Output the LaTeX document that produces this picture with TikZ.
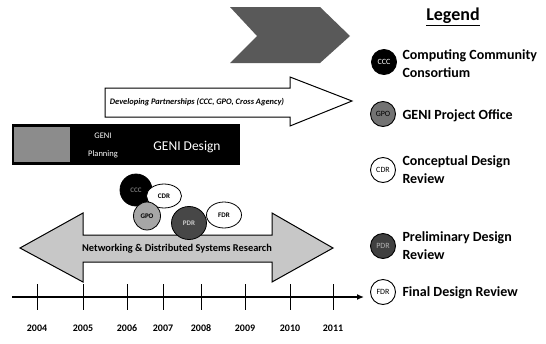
\documentclass[tikz,border=0pt]{standalone}
\usepackage{fontspec}
\setmainfont{Carlito}
\usetikzlibrary{arrows.meta,shapes.geometric}

\begin{document}
\begin{tikzpicture}[x=1pt,y=-1pt,
	bubble/.style={ellipse,draw,line width=0.8pt,inner sep=0pt,font=\bfseries\fontsize{7}{7}\selectfont},
	key/.style={circle,draw,line width=0.9pt,minimum size=25pt,inner sep=0pt,font=\fontsize{8}{8}\selectfont},
	keytext/.style={anchor=west,align=left,font=\bfseries\fontsize{14}{18}\selectfont},
	year/.style={font=\bfseries\fontsize{10}{10}\selectfont}]
	\useasboundingbox (0,0) rectangle (546,343);
	\fill[black!65] (230,7) -- (320,7) -- (350,36) -- (320,63) -- (230,63) -- (257,36) -- cycle;
	\draw[line width=1pt,fill=white] (105,88) -- (290,88) -- (290,77) -- (352,101) -- (290,126) -- (290,117) -- (105,117) -- cycle;
	\node[font=\bfseries\itshape\fontsize{8.4}{9}\selectfont] (partners) at (197,102) {Developing Partnerships (CCC, GPO, Cross Agency)};
	\fill (12,124) rectangle (240,165);
	\fill[black!45] (14,127) rectangle (70,162);
	\node[white,align=center,font=\fontsize{8.5}{18}\selectfont] (planning) at (103,145) {GENI\\Planning};
	\node[white,font=\fontsize{13.5}{14}\selectfont] (design) at (187,147) {GENI Design};
	\draw[line width=1pt,fill=black!22] (20,248) -- (83,213) -- (83,235) -- (272,235) -- (272,213) -- (333,248) -- (272,282) -- (272,262) -- (83,262) -- (83,282) -- cycle;
	\node[font=\bfseries\fontsize{10.4}{11}\selectfont] (research) at (177,249) {Networking \& Distributed Systems Research};
	\node[bubble,fill=black,text=black!55,minimum width=32pt,minimum height=32pt] (ccc) at (136,190) {CCC};
	\node[bubble,fill=white,minimum width=35pt,minimum height=24pt] (cdr) at (164,196) {CDR};
	\node[bubble,fill=black!35,minimum width=27pt,minimum height=28pt] (gpo) at (147,216) {GPO};
	\node[bubble,fill=black!72,text=black!20,minimum width=35pt,minimum height=33pt] (pdr) at (189,223) {PDR};
	\node[bubble,fill=white,minimum width=35pt,minimum height=26pt] (fdr) at (224,215) {FDR};
	\coordinate (tstart) at (12,297);
	\coordinate (tend) at (364,297);
	\draw[line width=1.3pt,-{Latex[length=7pt,width=6pt]}] (tstart) -- (tend);
	\foreach \x/\yr in {37/2004,83/2005,127/2006,163/2007,201/2008,245/2009,290/2010,333/2011}{
		\draw[line width=1pt] (\x,284) -- (\x,310);
		\node[year] (y\yr) at (\x,328) {\yr};
	}
	\node[font=\bfseries\fontsize{18}{18}\selectfont] (legend) at (453,17) {\underline{Legend}};
	\node[key,fill=black,text=white] (keyccc) at (384,62) {CCC};
	\node[keytext] (txtccc) at (399,64) {Computing Community\\Consortium};
	\node[key,fill=black!55] (keygpo) at (383,114) {GPO};
	\node[keytext] (txtgpo) at (399,116) {GENI Project Office};
	\node[key,fill=white] (keycdr) at (383,170) {CDR};
	\node[keytext] (txtcdr) at (399,170) {Conceptual Design\\Review};
	\node[key,fill=black!75,text=black!30] (keypdr) at (383,246) {PDR};
	\node[keytext] (txtpdr) at (399,246) {Preliminary Design\\Review};
	\node[key,fill=white] (keyfdr) at (383,292) {FDR};
	\node[keytext] (txtfdr) at (399,293) {Final Design Review};
\end{tikzpicture}
\end{document}
